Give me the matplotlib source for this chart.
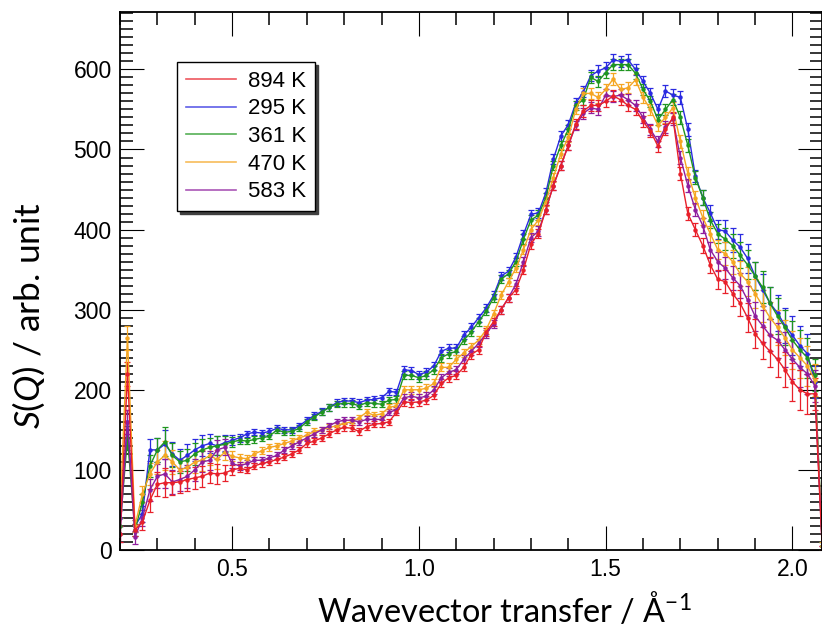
#!/usr/bin/env python3
"""S(Q) versus wavevector transfer for five temperatures."""

import matplotlib

matplotlib.use("Agg")
import matplotlib.pyplot as plt
import numpy as np
from matplotlib.ticker import MultipleLocator

# measurement grid, 0.02 A^-1 steps
Q = np.round(np.arange(0.20, 2.081, 0.02), 2)

S_894 = [20, 220, 25, 35, 62, 82, 84, 84, 85, 88,
         90, 92, 96, 95, 96, 100, 102, 100, 105, 108,
         110, 113, 116, 120, 125, 133, 136, 140, 145, 150,
         153, 152, 148, 154, 157, 158, 160, 172, 185, 184,
         185, 187, 193, 208, 215, 218, 228, 244, 250, 272,
         285, 300, 315, 325, 350, 382, 395, 425, 455, 480,
         505, 532, 548, 555, 555, 560, 567, 562, 555, 550,
         535, 523, 504, 525, 540, 470, 420, 400, 380, 356,
         338, 335, 320, 308, 290, 270, 258, 248, 238, 225,
         210, 200, 195, 195, 0]
S_295 = [40, 160, 30, 45, 125, 125, 132, 120, 112, 118,
         125, 130, 133, 130, 134, 137, 140, 145, 147, 146,
         148, 152, 150, 150, 155, 162, 168, 173, 178, 184,
         186, 186, 184, 187, 188, 190, 198, 197, 225, 224,
         219, 222, 230, 248, 252, 252, 268, 278, 290, 302,
         318, 342, 348, 366, 394, 419, 421, 446, 488, 517,
         531, 558, 572, 592, 598, 602, 612, 610, 612, 600,
         585, 570, 550, 573, 568, 565, 525, 467, 440, 421,
         400, 398, 387, 378, 364, 342, 325, 308, 296, 280,
         268, 255, 245, 210, 5]
S_361 = [30, 140, 25, 60, 105, 125, 135, 118, 110, 112,
         120, 125, 128, 130, 132, 135, 137, 136, 138, 140,
         142, 150, 147, 148, 152, 160, 166, 172, 178, 182,
         183, 183, 180, 184, 183, 182, 187, 188, 218, 218,
         215, 218, 225, 240, 245, 248, 262, 272, 285, 298,
         315, 338, 345, 360, 388, 412, 418, 440, 480, 505,
         525, 555, 562, 590, 585, 596, 606, 606, 606, 595,
         575, 560, 537, 550, 562, 540, 505, 465, 440, 412,
         395, 388, 380, 368, 356, 342, 328, 308, 292, 278,
         262, 250, 240, 218, 5]
S_470 = [50, 265, 30, 70, 95, 110, 118, 110, 100, 103,
         110, 112, 118, 113, 122, 117, 115, 114, 120, 124,
         128, 130, 133, 136, 140, 143, 148, 150, 153, 155,
         158, 160, 165, 172, 168, 170, 178, 180, 200, 200,
         200, 202, 208, 228, 228, 238, 246, 254, 262, 275,
         295, 318, 335, 352, 375, 400, 412, 435, 465, 495,
         515, 550, 570, 570, 565, 575, 588, 575, 577, 587,
         565, 550, 530, 540, 552, 510, 470, 440, 415, 395,
         375, 370, 360, 345, 335, 320, 305, 290, 278, 265,
         250, 240, 230, 212, 5]
S_583 = [20, 160, 16, 40, 75, 92, 95, 85, 88, 92,
         100, 110, 112, 125, 128, 108, 105, 108, 112, 112,
         115, 118, 125, 130, 135, 140, 145, 150, 155, 160,
         162, 162, 160, 163, 163, 163, 172, 175, 190, 192,
         190, 192, 200, 215, 222, 225, 238, 248, 258, 270,
         282, 300, 315, 332, 360, 390, 398, 425, 455, 480,
         505, 530, 545, 552, 550, 568, 566, 568, 562, 555,
         540, 525, 510, 528, 538, 490, 455, 425, 405, 375,
         360, 352, 340, 330, 312, 292, 280, 268, 262, 250,
         238, 228, 220, 205, 0]
ERR = [10, 15, 8, 10, 14, 15, 18, 15, 14, 14,
       14, 13, 12, 12, 10, 6, 5, 4, 4, 4,
       4, 4, 4, 4, 4, 4, 4, 4, 4, 4,
       4, 4, 4, 4, 4, 4, 4, 4, 5, 5,
       5, 5, 5, 5, 5, 5, 5, 5, 5, 5,
       5, 5, 5, 5, 6, 6, 6, 6, 6, 6,
       6, 6, 7, 7, 7, 7, 7, 7, 7, 7,
       7, 7, 7, 7, 7, 8, 8, 8, 9, 10,
       12, 14, 15, 16, 18, 18, 20, 20, 22, 22,
       24, 25, 25, 20, 5]

SERIES = [
    ("894 K", S_894, "#e8202a"),
    ("295 K", S_295, "#2a2ae0"),
    ("361 K", S_361, "#1f961f"),
    ("470 K", S_470, "#f5a623"),
    ("583 K", S_583, "#8e1e9e"),
]
DRAW_ORDER = ["295 K", "361 K", "470 K", "583 K", "894 K"]

plt.rcParams["font.family"] = ["Liberation Sans", "DejaVu Sans"]
plt.rcParams["mathtext.fontset"] = "custom"
plt.rcParams["mathtext.rm"] = "Lato"
plt.rcParams["mathtext.it"] = "Lato:italic"

fig = plt.figure(figsize=(8.22, 6.34), dpi=100)
ax = fig.add_axes([0.146, 0.1325, 0.8535, 0.849])

handles = {}
lookup = {name: (vals, col) for name, vals, col in SERIES}
for name in DRAW_ORDER:
    vals, col = lookup[name]
    ax.errorbar(Q, vals, yerr=ERR, color=col, lw=1.0, marker="o", ms=2.2,
                elinewidth=0.9, capsize=2.2, capthick=0.9)
    handles[name] = plt.Line2D([], [], color=col, lw=1.2, alpha=0.75)

ax.set_xlim(0.2, 2.078)
ax.set_ylim(0, 672)
ax.xaxis.set_major_locator(MultipleLocator(0.5))
ax.xaxis.set_minor_locator(MultipleLocator(0.1))
ax.yaxis.set_major_locator(MultipleLocator(100))
ax.yaxis.set_minor_locator(MultipleLocator(10))
ax.tick_params(which="both", direction="in", top=True, right=True, labelsize=16.5)
ax.tick_params(which="major", length=17, width=0.8, pad=6)
ax.tick_params(which="minor", length=9, width=1.1)
for sp in ax.spines.values():
    sp.set_linewidth(1.3)

leg = ax.legend([handles[n] for n, _, _ in SERIES], [n for n, _, _ in SERIES],
                loc="upper left", bbox_to_anchor=(0.081, 0.907), borderaxespad=0,
                fontsize=16, fancybox=False, shadow={"color": "0.25", "alpha": 1},
                handlelength=2.25, handletextpad=0.55, labelspacing=0.3,
                borderpad=0.4, framealpha=1)
leg.get_frame().set_edgecolor("black")
leg.get_frame().set_linewidth(1.0)

fig.text(0.035, 0.503, "$S$($Q$) / arb. unit", rotation=90, ha="center", va="center",
         family="Lato", fontsize=25.5)
fig.text(0.614, 0.038, "Wavevector transfer / Å$^{-1}$", ha="center", va="center",
         family="Lato", fontsize=23.3)

fig.savefig("out.png", dpi=100)
